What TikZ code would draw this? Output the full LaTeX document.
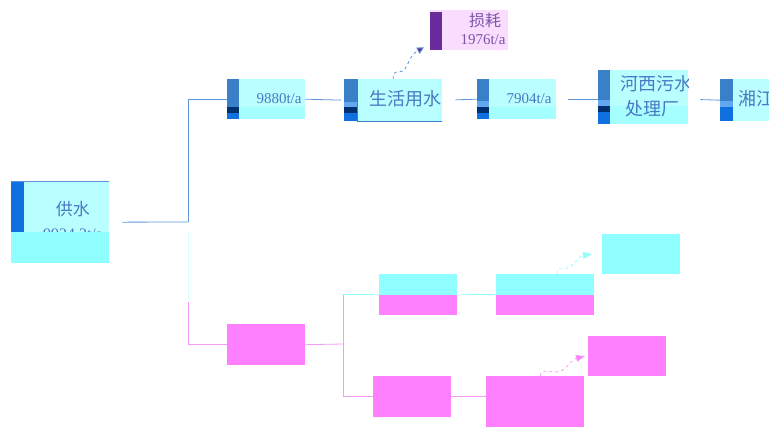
\documentclass[tikz,border=0pt]{standalone}
\usepackage{fontspec}
\setmainfont{Liberation Serif}
\newfontfamily\cjk{Noto Sans CJK SC}
\usetikzlibrary{arrows.meta,calc}
\definecolor{lc}{HTML}{BAFFFF}
\definecolor{lc2}{HTML}{A6FFFF}
\definecolor{cy}{HTML}{90FFFF}
\definecolor{pk}{HTML}{FF80FF}
\definecolor{bl}{HTML}{3A80C8}
\definecolor{lbl}{HTML}{62A8F0}
\definecolor{dbl}{HTML}{003070}
\definecolor{bbl}{HTML}{1070E0}
\definecolor{tx}{HTML}{4A78C4}
\definecolor{lp}{HTML}{FADCFF}
\definecolor{pu}{HTML}{6A2C9C}
\definecolor{ptx}{HTML}{7A55A8}
\definecolor{ln}{HTML}{5C96D8}
\definecolor{pl}{HTML}{F59AF5}
\definecolor{fc}{HTML}{D8FFFF}
\tikzset{
  cbox/.style={fill=lc, draw=none, inner sep=0, anchor=north west},
  pbox/.style={fill=pk, draw=none, inner sep=0, anchor=north west},
  qbox/.style={fill=cy, draw=none, inner sep=0, anchor=north west},
  numtxt/.style={text=tx, font=\fontsize{15}{15}\selectfont, inner sep=0},
  cjktxt/.style={text=tx, font=\cjk\fontsize{18}{18}\selectfont, inner sep=0},
  bline/.style={draw=ln, line width=0.8pt},
  pline/.style={draw=pl, line width=0.8pt},
  cline/.style={draw=cy, line width=0.8pt},
  flow/.style={line width=0.8pt, dash pattern=on 3pt off 3pt},
}
\begin{document}
\begin{tikzpicture}[x=1pt,y=-1pt]
\useasboundingbox (0,0) rectangle (769,427);
% supply box
\node[cbox, minimum width=98, minimum height=82] (sup) at (11,181) {};
\begin{scope}
\clip (11,181) rectangle (109,263);
\node[cjktxt, font=\cjk\fontsize{17}{17}\selectfont] at (73,209) {供水};
\node[numtxt, font=\fontsize{16}{16}\selectfont] at (73,234.5) {9924.3t/a};
\end{scope}
\fill[cy] (11,232) rectangle (109,263);
\fill[bbl] (11,181) rectangle (24,232);
\draw[ln, line width=0.6pt] (11,181.3) -- (109,181.3);

% 9880
\node[cbox, minimum width=78, minimum height=40] (a) at (227,79) {};
\fill[lc2] (239,107) rectangle (305,119);
\fill[bl] (227,79) rectangle (239,107);
\fill[dbl] (227,107) rectangle (239,113);
\fill[bbl] (227,113) rectangle (239,119);
\node[numtxt] at (279,99) {9880t/a};

% living water
\node[cbox, minimum width=98, minimum height=42] (b) at (344,79) {};
\begin{scope}
\clip (344,79) rectangle (442,121);
\node[cjktxt] at (405,99) {生活用水};
\end{scope}
\fill[bl] (344,79) rectangle (357,102);
\fill[lbl] (344,102) rectangle (357,107);
\fill[dbl] (344,107) rectangle (357,113);
\fill[bbl] (344,113) rectangle (357,121);
\draw[bl, line width=0.6pt] (357,79) -- (357,121) -- (442,121);

% loss
\node[fill=lp, inner sep=0, anchor=north west, minimum width=78, minimum height=40] (loss) at (430,10) {};
\fill[pu] (430,12) rectangle (442,50);
\node[text=ptx, font=\cjk\fontsize{16}{16}\selectfont, inner sep=0] at (485,20) {损耗};
\node[numtxt, text=ptx] at (483,40) {1976t/a};

% 7904
\node[cbox, minimum width=79, minimum height=40] (c) at (477,79) {};
\fill[lc2] (489,107) rectangle (556,119);
\fill[bl] (477,79) rectangle (489,101);
\fill[lbl] (477,101) rectangle (489,107);
\fill[dbl] (477,107) rectangle (489,113);
\fill[bbl] (477,113) rectangle (489,119);
\node[numtxt] at (529,99) {7904t/a};

% Hexi plant
\node[cbox, minimum width=90, minimum height=54] (d) at (598,70) {};
\fill[lc2] (610,106) rectangle (688,124);
\begin{scope}
\clip (598,70) rectangle (688,124);
\node[cjktxt] at (656,84) {河西污水};
\node[cjktxt] at (652,109) {处理厂};
\end{scope}
\fill[bl] (598,70) rectangle (610,100);
\fill[lbl] (598,100) rectangle (610,106);
\fill[dbl] (598,106) rectangle (610,112);
\fill[bbl] (598,112) rectangle (610,124);

% Xiang river
\node[cbox, minimum width=60, minimum height=42] (e) at (720,79) {};
\fill[bl] (720,79) rectangle (733,101);
\fill[lbl] (720,101) rectangle (733,107);
\fill[bbl] (720,107) rectangle (733,121);
\node[cjktxt, anchor=west] at (738,99) {湘江};

% lower branch
\node[pbox, minimum width=78, minimum height=41] (pA) at (227,324) {};
\node[qbox, minimum width=78, minimum height=41] (pB) at (379,274) {};
\fill[pk] (379,295) rectangle (457,315);
\node[qbox, minimum width=98, minimum height=41] (pC) at (496,274) {};
\fill[pk] (496,295) rectangle (594,315);
\node[qbox, minimum width=78, minimum height=40] (pD) at (602,234) {};
\node[pbox, minimum width=78, minimum height=41] (pE) at (373,376) {};
\node[pbox, minimum width=98, minimum height=51] (pF) at (486,376) {};
\node[pbox, minimum width=78, minimum height=40] (pG) at (588,336) {};

% connectors upper
\coordinate (j1) at (188,222);
\draw[bline, shorten <=13pt] (sup.east) -- (j1);
\draw[bline] (j1) |- (a.west);
\draw[bline, shorten >=3pt] (a.east) -- (b.west);
\draw[bline, shorten <=13pt] (b.east) -- (c.west);
\draw[bline, shorten <=12pt] (c.east) -- (c.east -| d.west);
\draw[bline, shorten <=12pt] (d.west -| d.east) ++(0,2) -- (e.west);
\draw[draw=fc, line width=0.8pt] (188,232) -- (188,300);
\draw[pline] (188,302) |- (pA.west);

% connectors lower
\coordinate (j2) at (343,344);
\draw[pline] (pA.east) -- (j2);
\draw[pline] (j2) -- (343,294);
\draw[cline, shorten >=4pt] (343,294) -- (343,294 -| pB.west);
\draw[pline] (j2) |- (pE.west);
\draw[cline, shorten <=4pt] (pB.east) ++(0,-0.5) -- (pB.east -| pC.west);
\draw[pline] (pE.east) -- (pE.east -| pF.west);

% flows
\draw[flow, ln, -{Triangle[length=7pt,width=7pt,fill=pu]}]
  (b.north) -- ++(0,-5) .. controls (396,70) and (401,74) .. (405,69)
  .. controls (409,63) and (410,55) .. ($(loss.south west)+(-6,-3)$);
\draw[flow, cy, -{Triangle[length=9pt,width=7pt]}]
  ($(pC.north)+(12,0)$) .. controls (557,266) and (560,270) .. (567,268)
  .. controls (575,266) and (578,256) .. ($(pD.west)+(-10,0)$);
\draw[flow, pl, -{Triangle[length=9pt,width=7pt,fill=pk]}]
  ($(pF.north)+(5,0)$) .. controls (542,368) and (546,372) .. (556,372)
  .. controls (566,372) and (570,360) .. ($(pG.west)+(-3,0)$);
\end{tikzpicture}
\end{document}
